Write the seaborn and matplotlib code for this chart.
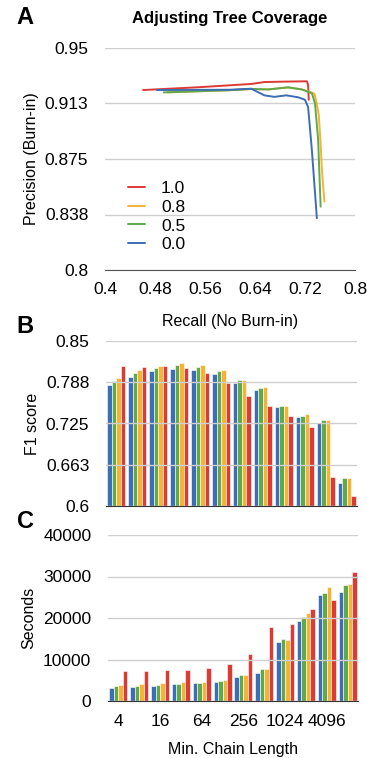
import numpy as np
import pandas as pd
import matplotlib
matplotlib.use("Agg")
import matplotlib.pyplot as plt
import seaborn as sns

# ---------- data
# panel A: precision (burn-in) vs recall (no burn-in), per tree coverage
recall_10 = [0.461, 0.55, 0.634, 0.655, 0.69, 0.723, 0.725, 0.726]
prec_10 = [0.9216, 0.9235, 0.9257, 0.927, 0.9273, 0.9275, 0.925, 0.915]
recall_08 = [0.50, 0.60, 0.634, 0.661, 0.693, 0.715, 0.73, 0.735, 0.738, 0.742, 0.745, 0.747, 0.751]
prec_08 = [0.920, 0.9215, 0.9223, 0.922, 0.9234, 0.922, 0.920, 0.9192, 0.914, 0.905, 0.885, 0.868, 0.8462]
recall_05 = [0.494, 0.60, 0.634, 0.661, 0.693, 0.715, 0.731, 0.736, 0.741, 0.745]
prec_05 = [0.920, 0.9215, 0.9223, 0.922, 0.9234, 0.922, 0.9194, 0.9126, 0.888, 0.8428]
recall_00 = [0.483, 0.60, 0.634, 0.655, 0.671, 0.69, 0.709, 0.72, 0.725, 0.731, 0.739]
prec_00 = [0.9216, 0.9218, 0.9225, 0.918, 0.917, 0.918, 0.9167, 0.915, 0.910, 0.881, 0.835]

# panels B and C: per minimum chain length
chain_len = [4, 8, 16, 32, 64, 128, 256, 512, 1024, 2048, 4096, 8192]
coverage = ["0.0", "0.5", "0.8", "1.0"]

f1_00 = [0.784, 0.7955, 0.804, 0.808, 0.8066, 0.7995, 0.787, 0.775, 0.750, 0.735, 0.7258, 0.635]
f1_05 = [0.790, 0.8015, 0.809, 0.813, 0.8106, 0.804, 0.791, 0.779, 0.751, 0.736, 0.7308, 0.6424]
f1_08 = [0.7944, 0.8056, 0.812, 0.816, 0.8136, 0.806, 0.7914, 0.780, 0.751, 0.7394, 0.7308, 0.6424]
f1_10 = [0.812, 0.811, 0.812, 0.809, 0.802, 0.787, 0.767, 0.752, 0.736, 0.720, 0.644, 0.6146]

sec_00 = [3210, 3450, 3690, 4016, 4257, 4578, 5700, 6667, 14137, 19357, 25462, 26345]
sec_05 = [3610, 3690, 3935, 4177, 4418, 4900, 6185, 7630, 14860, 20320, 26104, 28032]
sec_08 = [3855, 4100, 4257, 4500, 4578, 5140, 6185, 7630, 14700, 21124, 27470, 28273]
sec_10 = [7310, 7310, 7550, 7550, 8030, 9000, 11325, 17750, 18474, 22168, 24337, 31165]

colors = {"0.0": "#3d6db5", "0.5": "#5fa84b", "0.8": "#f5b335", "1.0": "#dc3b33"}

# long tables
df_a = pd.concat([
    pd.DataFrame({"recall": recall_10, "precision": prec_10, "cov": "1.0"}),
    pd.DataFrame({"recall": recall_08, "precision": prec_08, "cov": "0.8"}),
    pd.DataFrame({"recall": recall_05, "precision": prec_05, "cov": "0.5"}),
    pd.DataFrame({"recall": recall_00, "precision": prec_00, "cov": "0.0"}),
], ignore_index=True)

rows = []
for cov, f1s, secs in zip(coverage, [f1_00, f1_05, f1_08, f1_10], [sec_00, sec_05, sec_08, sec_10]):
    for L, f, s in zip(chain_len, f1s, secs):
        rows.append({"chain": str(L), "cov": cov, "f1": f, "sec": s})
df_b = pd.DataFrame(rows)

# ---------- style
sns.set_style("white")
plt.rcParams["font.family"] = ["Liberation Sans", "DejaVu Sans"]
plt.rcParams["text.color"] = "black"
plt.rcParams["axes.labelcolor"] = "black"
plt.rcParams["xtick.color"] = "black"
plt.rcParams["ytick.color"] = "black"
grid_col = "#cfcfcf"
TICK_FS = 12.5
LAB_FS = 11.5

W, H = 367, 758
fig = plt.figure(figsize=(W / 100, H / 100), dpi=100)


def ax_at(x0, x1, ytop, ybot):
    return fig.add_axes([x0 / W, 1 - ybot / H, (x1 - x0) / W, (ybot - ytop) / H])


# ---------- A: line plot
ax1 = ax_at(105, 355, 48, 270)
sns.lineplot(data=df_a, x="recall", y="precision", hue="cov", sort=False,
             hue_order=["1.0", "0.8", "0.5", "0.0"], palette=colors,
             linewidth=1.4, ax=ax1, estimator=None)
ax1.set_xlim(0.4, 0.8)
ax1.set_ylim(0.8, 0.95)
ax1.set_xticks([0.4, 0.48, 0.56, 0.64, 0.72, 0.8])
ax1.set_xticklabels(["0.4", "0.48", "0.56", "0.64", "0.72", "0.8"])
ax1.set_yticks([0.8, 0.8375, 0.875, 0.9125, 0.95])
ax1.set_yticklabels(["0.8", "0.838", "0.875", "0.913", "0.95"])
ax1.yaxis.grid(True, color=grid_col, linewidth=1)
ax1.set_axisbelow(True)
for s in ["top", "right", "left"]:
    ax1.spines[s].set_visible(False)
ax1.spines["bottom"].set_color("#555555")
ax1.tick_params(axis="both", length=0, labelsize=TICK_FS)
ax1.tick_params(axis="y", pad=12)
ax1.tick_params(axis="x", pad=9)
ax1.set_xlabel("Recall (No Burn-in)", fontsize=LAB_FS, labelpad=12)
ax1.set_ylabel("Precision (Burn-in)", fontsize=LAB_FS, labelpad=4)
ax1.set_title("Adjusting Tree Coverage", fontsize=12, fontweight="bold", pad=18)
leg = ax1.legend(loc="lower left", bbox_to_anchor=(0.03, 0.01), frameon=False,
                 fontsize=12.5, handlelength=1.0, handletextpad=0.9, labelspacing=0.2)


def bar_panel(ax, ycol, ylim, yticks, ylabels):
    sns.barplot(data=df_b, x="chain", y=ycol, hue="cov", order=[str(c) for c in chain_len],
                hue_order=coverage, palette=colors, width=0.86, edgecolor="white",
                linewidth=0.4, saturation=1, ax=ax, legend=False)
    ax.set_ylim(*ylim)
    ax.set_xlim(-0.5, len(chain_len) - 0.5)
    ax.set_yticks(yticks)
    ax.set_yticklabels(ylabels)
    ax.yaxis.grid(True, color=grid_col, linewidth=1, zorder=5)
    ax.set_axisbelow(False)
    for s in ["top", "right", "left"]:
        ax.spines[s].set_visible(False)
    ax.spines["bottom"].set_color("#333333")
    ax.tick_params(axis="y", length=0, pad=12, labelsize=TICK_FS)
    ax.tick_params(axis="x", length=5, width=1, direction="out", color="#333333",
                   labelsize=TICK_FS, pad=4)
    ax.set_xticks(range(0, len(chain_len), 2))


# ---------- B: F1 score
ax2 = ax_at(106, 357, 341, 506)
bar_panel(ax2, "f1", (0.6, 0.85), [0.6, 0.6625, 0.725, 0.7875, 0.85],
          ["0.6", "0.663", "0.725", "0.788", "0.85"])
ax2.set_xticklabels([])
ax2.set_xlabel("")
ax2.set_ylabel("F1 score", fontsize=LAB_FS, labelpad=4)

# ---------- C: runtime
ax3 = ax_at(108, 358, 535, 701)
bar_panel(ax3, "sec", (0, 40000), [0, 10000, 20000, 30000, 40000],
          ["0", "10000", "20000", "30000", "40000"])
ax3.set_xticklabels([str(c) for c in chain_len[::2]])
ax3.set_xlabel("Min. Chain Length", fontsize=LAB_FS, labelpad=10)
ax3.set_ylabel("Seconds", fontsize=LAB_FS, labelpad=5)

# panel letters
for lab, (px, py) in {"A": (25, 18), "B": (25, 327), "C": (25, 522)}.items():
    fig.text(px / W, 1 - py / H, lab, fontsize=17, fontweight="bold", ha="center", va="center")

fig.savefig("out.png", dpi=100)
